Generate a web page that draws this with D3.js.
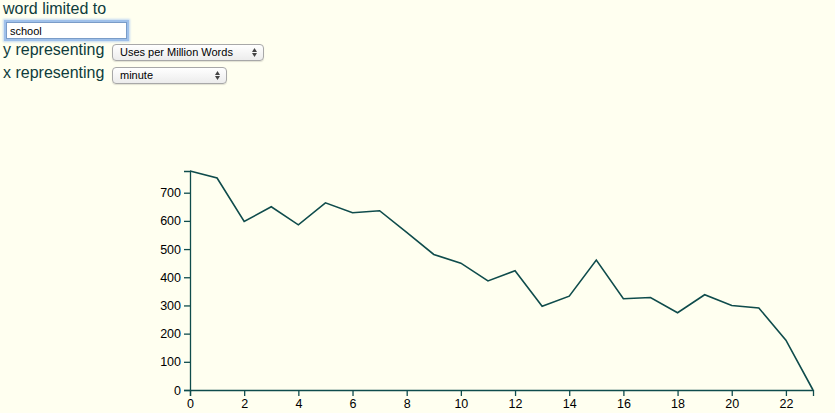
<!DOCTYPE html>
<html>
<head>
<meta charset="utf-8">
<title>word usage</title>
<script src="https://cdn.jsdelivr.net/npm/d3@7"></script>
<style>
  html, body { margin: 0; padding: 0; }
  body {
    background: #fffff0;
    color: #0e3c3c;
    font-family: "Liberation Sans", Arial, Helvetica, sans-serif;
    width: 835px; height: 413px; overflow: hidden; position: relative;
  }
  .lbl { position: absolute; left: 3px; font-size: 16px; line-height: 16px; }
  #word {
    position: absolute; left: 6px; top: 22px; width: 121px; height: 17px;
    box-sizing: border-box; margin: 0; padding: 0 0 0 3px;
    font: 11px "Liberation Sans", Arial, sans-serif; color: #000;
    border: 1px solid #7a9cc8; background: #fff; outline: none;
    box-shadow: 0 0 0 2px #9fc0ea, 0 0 2px 3px #c4d9f2;
  }
  .sel {
    position: absolute; left: 112px; height: 17px; box-sizing: border-box;
    border: 1px solid #a8a8a8; border-radius: 4px;
    background: linear-gradient(#ffffff, #ececec);
    font: 11px "Liberation Sans", Arial, sans-serif; color: #000;
    line-height: 15px; padding-left: 7px;
    box-shadow: 0 1px 1px rgba(0,0,0,0.12);
  }
  .sel svg { position: absolute; right: 6px; top: 3px; }
  #chart { position: absolute; left: 0; top: 100px; }
  .axis path, .axis line { stroke: #0f4c4c; stroke-width: 1.3px; }
  .axis text { font: 12.5px "Liberation Sans", Arial, sans-serif; fill: #000; }
</style>
</head>
<body>
<div class="lbl" style="top:1px">word limited to</div>
<input id="word" type="text" value="school">
<div class="lbl" style="top:42px">y representing</div>
<div class="sel" id="ysel" style="top:44px;width:152px">Uses per Million Words</div>
<div class="lbl" style="top:65px">x representing</div>
<div class="sel" id="xsel" style="top:67px;width:115px">minute</div>
<svg id="chart"></svg>
<script>

// uses of "school" per million words, by minute
var minutes = [0,1,2,3,4,5,6,7,8,9,10,11,12,13,14,15,16,17,18,19,20,21,22,23];
var usesPerMillion = [777,752,598,650,586,664,629,636,559,481,450,387,423,297,333,461,324,328,274,338,300,291,177,0];
var xTicks = [0,2,4,6,8,10,12,14,16,18,20,22];
var yTicks = [0,100,200,300,400,500,600,700];

// little up/down arrows for the two select boxes
d3.selectAll(".sel").append("svg")
    .attr("width", 5).attr("height", 9)
  .selectAll("path")
  .data(["M0,4L2.5,0L5,4Z", "M0,5L2.5,9L5,5Z"])
  .enter().append("path")
    .attr("d", function(d) { return d; })
    .attr("fill", "#444");

var margin = {top: 71, right: 22, bottom: 24, left: 190},
    width = 623,
    height = 219;

var svg = d3.select("#chart")
    .attr("width", margin.left + width + margin.right)
    .attr("height", margin.top + height + margin.bottom);

var g = svg.append("g").attr("transform", "translate(" + margin.left + "," + margin.top + ")");

var x = d3.scaleLinear().domain([0, d3.max(minutes)]).range([0, width]);
var y = d3.scaleLinear().domain([0, d3.max(usesPerMillion)]).range([height, 0]);

g.append("g")
    .attr("class", "axis")
    .attr("transform", "translate(0," + height + ")")
    .call(d3.axisBottom(x).tickValues(xTicks).tickFormat(d3.format("d")))
    .select(".domain").attr("fill", "none");

g.append("g")
    .attr("class", "axis")
    .call(d3.axisLeft(y).tickValues(yTicks).tickFormat(d3.format("d")))
    .select(".domain").attr("fill", "none");

var line = d3.line()
    .x(function(d, i) { return x(minutes[i]); })
    .y(function(d) { return y(d); });

g.append("path")
    .datum(usesPerMillion)
    .attr("fill", "none")
    .attr("stroke", "#0f4c4c")
    .attr("stroke-width", 1.6)
    .attr("d", line);

</script>
</body>
</html>
